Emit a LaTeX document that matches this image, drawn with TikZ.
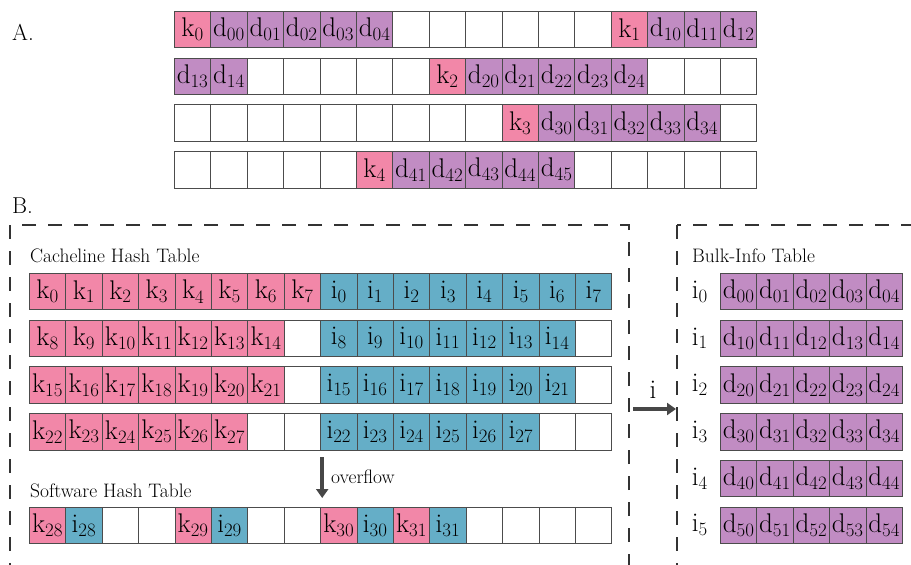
\documentclass[tikz,border=0pt]{standalone}
\usepackage{fontspec}
\usepackage{xcolor}
\usetikzlibrary{arrows,arrows.meta,positioning}

\definecolor{kfill}{RGB}{242,135,168}
\definecolor{dfill}{RGB}{193,140,195}
\definecolor{ifill}{RGB}{101,174,199}
\definecolor{efill}{RGB}{255,255,255}
\newcommand\tabfont{\fontsize{27}{27}\selectfont}
\newcommand\capfont{\fontsize{19.5}{19.5}\selectfont}

\begin{document}
\begin{tikzpicture}[x=1pt,y=-1pt,
  cell/.style={draw=black!70,line width=.8pt,fill=#1fill,minimum width=36.4pt,minimum height=36.4pt,inner sep=0pt,anchor=north west,font=\tabfont},
  tablabel/.style={anchor=base west,inner sep=0pt,font=\capfont},
  dashbox/.style={draw=black!80,line width=2.6pt,dash pattern=on 14pt off 12pt},
  fatarrow/.style={draw=black!72,line width=4pt,-{Triangle[length=9pt,width=12pt]}}]
\useasboundingbox (0,0) rectangle (911,565);
\clip (0,0) rectangle (911,565);

% A. one flat table
\node[tablabel,font=\fontsize{23}{23}\selectfont] (labA) at (12,40) {A.};
\foreach \s/\n [count=\c from 0] in {k/0,d/00,d/01,d/02,d/03,d/04,e/-,e/-,e/-,e/-,e/-,e/-,k/1,d/10,d/11,d/12}
  \node[cell=\s] (a1-\c) at ({174+36.4*\c},11) {\if e\s\else\s\textsubscript{\n}\fi};
\foreach \s/\n [count=\c from 0] in {d/13,d/14,e/-,e/-,e/-,e/-,e/-,k/2,d/20,d/21,d/22,d/23,d/24,e/-,e/-,e/-}
  \node[cell=\s] (a2-\c) at ({174+36.4*\c},57.7) {\if e\s\else\s\textsubscript{\n}\fi};
\foreach \s/\n [count=\c from 0] in {e/-,e/-,e/-,e/-,e/-,e/-,e/-,e/-,e/-,k/3,d/30,d/31,d/32,d/33,d/34,e/-}
  \node[cell=\s] (a3-\c) at ({174+36.4*\c},104.4) {\if e\s\else\s\textsubscript{\n}\fi};
\foreach \s/\n [count=\c from 0] in {e/-,e/-,e/-,e/-,e/-,k/4,d/41,d/42,d/43,d/44,d/45,e/-,e/-,e/-,e/-,e/-}
  \node[cell=\s] (a4-\c) at ({174+36.4*\c},151.1) {\if e\s\else\s\textsubscript{\n}\fi};

% B. cacheline table + software table, bulk info
\node[tablabel,font=\fontsize{23}{23}\selectfont] (labB) at (12,213) {B.};
\draw[dashbox] (10,225) rectangle (629,620);
\draw[dashbox] (677,225) rectangle (960,620);

\node[tablabel] (cht) at (30,262) {Cacheline Hash Table};
\foreach \s/\n [count=\c from 0] in {k/0,k/1,k/2,k/3,k/4,k/5,k/6,k/7,i/0,i/1,i/2,i/3,i/4,i/5,i/6,i/7}
  \node[cell=\s] (b1-\c) at ({29+36.4*\c},273) {\if e\s\else\s\textsubscript{\n}\fi};
\foreach \s/\n [count=\c from 0] in {k/8,k/9,k/10,k/11,k/12,k/13,k/14,e/-,i/8,i/9,i/10,i/11,i/12,i/13,i/14,e/-}
  \node[cell=\s] (b2-\c) at ({29+36.4*\c},319.7) {\if e\s\else\s\textsubscript{\n}\fi};
\foreach \s/\n [count=\c from 0] in {k/15,k/16,k/17,k/18,k/19,k/20,k/21,e/-,i/15,i/16,i/17,i/18,i/19,i/20,i/21,e/-}
  \node[cell=\s] (b3-\c) at ({29+36.4*\c},366.4) {\if e\s\else\s\textsubscript{\n}\fi};
\foreach \s/\n [count=\c from 0] in {k/22,k/23,k/24,k/25,k/26,k/27,e/-,e/-,i/22,i/23,i/24,i/25,i/26,i/27,e/-,e/-}
  \node[cell=\s] (b4-\c) at ({29+36.4*\c},413.1) {\if e\s\else\s\textsubscript{\n}\fi};

\node[tablabel] (sht) at (30,497) {Software Hash Table};
\foreach \s/\n [count=\c from 0] in {k/28,i/28,e/-,e/-,k/29,i/29,e/-,e/-,k/30,i/30,k/31,i/31,e/-,e/-,e/-,e/-}
  \node[cell=\s] (sw-\c) at ({29+36.4*\c},507) {\if e\s\else\s\textsubscript{\n}\fi};

\draw[fatarrow] ([shift={(2pt,-7pt)}]b4-8.south west) -- ([shift={(2pt,9pt)}]sw-8.north west);
\node[tablabel] (ovl) at (331,483) {overflow};

\node[tablabel] (bit) at (692,262) {Bulk-Info Table};
\foreach \r in {0,...,5} {
  \foreach \c in {0,...,4}
    \node[cell=d] (bi\r-\c) at ({720+36.4*\c},{273+46.7*\r}) {d\textsubscript{\r\c}};
  \node[inner sep=0pt,font=\tabfont,left=12pt of bi\r-0] (bl\r) {i\textsubscript{\r}};
}

\coordinate (lnk-a) at (633,409);
\coordinate (lnk-b) at (676,409);
\draw[fatarrow] (lnk-a) -- (lnk-b);
\node[inner sep=0pt,font=\tabfont,anchor=base] (ilab) at (653,398) {i};

\end{tikzpicture}
\end{document}
